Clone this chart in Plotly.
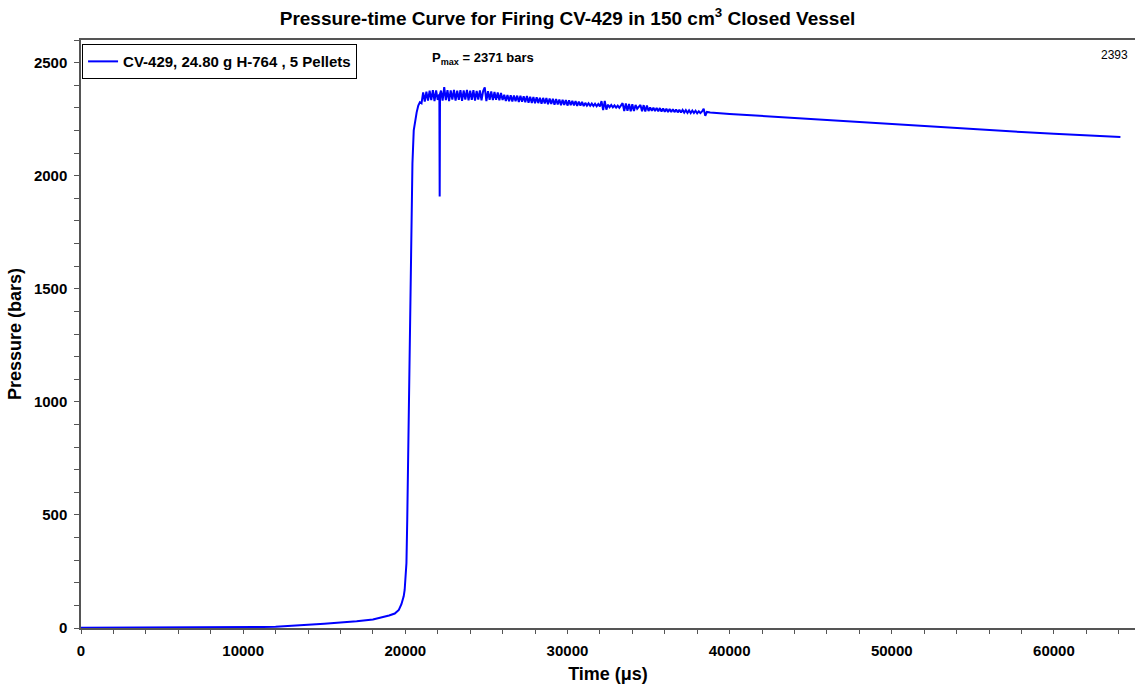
import plotly.graph_objects as go

# ---- data ----
# baseline and steep rise (time in microseconds, pressure in bars)
t_rise = [0, 2000, 4000, 6000, 8000, 10000, 11000, 12000, 13000, 14000, 15000,
          16000, 17000, 18000, 18500, 19000, 19350, 19600, 19760, 19900, 19960,
          20020, 20070, 20120, 20170, 20230, 20310, 20380, 20440, 20520, 20580,
          20700, 20800, 20900]
p_rise = [1, 1, 2, 2, 2, 3, 4, 6, 9, 14, 19,
          24, 30, 38, 45, 55, 64, 80, 105, 140, 168,
          220, 287, 480, 729, 1170, 1612, 1850, 2054, 2200, 2229,
          2280, 2310, 2325]

# noisy plateau, first part, incl. the single drop-out near 22120 us
t_plat1 = [21000, 21100, 21200, 21300, 21400, 21500, 21600, 21700, 21800, 21900,
           22000, 22100, 22120, 22140, 22200, 22300, 22400, 22500, 22600, 22700,
           22800, 22900,
           23000, 23100, 23200, 23300, 23400, 23500, 23600, 23700, 23800, 23900,
           24000, 24100, 24200, 24300, 24400, 24500, 24600, 24700, 24800, 24900,
           25000, 25100, 25200, 25300, 25400, 25500, 25600, 25700, 25800, 25900,
           26000]
p_plat1 = [2320, 2368, 2328, 2372, 2332, 2376, 2334, 2378, 2330, 2377,
           2335, 2360, 1908, 2362, 2376, 2332, 2392, 2334, 2378, 2330,
           2377, 2336,
           2379, 2332, 2376, 2335, 2378, 2331, 2377, 2336, 2379, 2333,
           2376, 2335, 2378, 2332, 2375, 2337, 2377, 2333, 2374, 2390,
           2330, 2374, 2336, 2372, 2334, 2370, 2336, 2368, 2333, 2366,
           2335]

# noisy plateau, second part
t_plat2 = [26100, 26200, 26300, 26400, 26500, 26600, 26700, 26800, 26900, 27000,
           27100, 27200, 27300, 27400, 27500, 27600, 27700, 27800, 27900, 28000,
           28100, 28200, 28300, 28400, 28500, 28600, 28700, 28800, 28900, 29000,
           29100, 29200, 29300, 29400, 29500, 29600, 29700, 29800, 29900, 30000,
           30100, 30200, 30300, 30400, 30500, 30600, 30700, 30800, 30900, 31000,
           31100, 31200, 31300, 31400, 31500, 31600, 31700, 31800, 31900, 32000,
           32100, 32200, 32300, 32400, 32500, 32600, 32700, 32800, 32900, 33000,
           33100, 33200, 33300, 33400, 33500, 33600, 33700, 33800, 33900, 34000,
           34100, 34200, 34300, 34400, 34500, 34600, 34700, 34800, 34900, 35000,
           35100, 35200, 35300, 35400, 35500, 35600, 35700, 35800, 35900, 36000,
           36100, 36200, 36300, 36400, 36500, 36600, 36700, 36800, 36900, 37000,
           37100, 37200, 37300, 37400, 37500, 37600, 37700, 37800, 37900, 38000,
           38100, 38200, 38300, 38400, 38500, 38600]
p_plat2 = [2358, 2330, 2357, 2329, 2356, 2328, 2355, 2329, 2354, 2326,
           2353, 2327, 2351, 2325, 2352, 2323, 2349, 2322, 2348, 2320,
           2347, 2321, 2345, 2318, 2344, 2319, 2343, 2316, 2341, 2317,
           2340, 2314, 2339, 2315, 2337, 2312, 2336, 2313, 2334, 2310,
           2333, 2312, 2331, 2311, 2330, 2309, 2328, 2310, 2326, 2308,
           2322, 2310, 2320, 2309, 2319, 2308, 2318, 2307, 2317, 2306,
           2330, 2290, 2331, 2292, 2314, 2303, 2313, 2302, 2311, 2301,
           2310, 2300, 2309, 2321, 2286, 2319, 2287, 2317, 2285, 2316,
           2286, 2313, 2296, 2303, 2313, 2285, 2312, 2284, 2310, 2286,
           2302, 2287, 2301, 2286, 2300, 2285, 2299, 2284, 2297, 2283,
           2296, 2282, 2295, 2282, 2294, 2281, 2293, 2280, 2292, 2279,
           2291, 2279, 2290, 2278, 2289, 2277, 2288, 2277, 2287, 2276,
           2285, 2277, 2284, 2296, 2265, 2282]

# slow decay
t_decay = [38800, 40000, 42000, 44000, 46000, 48000, 50000, 52000, 54000,
           56000, 58000, 60000, 62000, 64100]
p_decay = [2279, 2273, 2264, 2255, 2245, 2236, 2226, 2217, 2208,
           2200, 2193, 2186, 2179, 2171]

x_tick_vals = [0, 10000, 20000, 30000, 40000, 50000, 60000]
y_tick_vals = [0, 500, 1000, 1500, 2000, 2500]

series_name = "CV-429, 24.80 g H-764 , 5 Pellets"
title_text = "Pressure-time Curve for Firing CV-429 in 150 cm<sup>3</sup> Closed Vessel"
pmax_text = "P<sub>max</sub> = 2371 bars"
corner_text = "2393"

assert len(t_plat2) == len(p_plat2)
assert len(t_plat1) == len(p_plat1)
assert len(t_rise) == len(p_rise)
assert len(t_decay) == len(p_decay)

t_all = t_rise + t_plat1 + t_plat2 + t_decay
p_all = p_rise + p_plat1 + p_plat2 + p_decay

FONT = "Liberation Sans, Arial, sans-serif"
AXC = "#555555"
W, H = 1135, 694

fig = go.Figure()
fig.add_trace(go.Scatter(
    x=t_all, y=p_all, mode="lines", name=series_name,
    line=dict(color="#0000FF", width=2),
))

fig.update_layout(
    width=W, height=H,
    margin=dict(l=81, r=0, t=40, b=66),
    paper_bgcolor="white", plot_bgcolor="white",
    font=dict(family=FONT, color="black"),
    title=dict(text=title_text, x=0.5, xref="container", xanchor="center",
               y=1 - 18 / H, yref="container", yanchor="middle",
               font=dict(size=19, weight="bold", family=FONT, color="black")),
    showlegend=True,
    legend=dict(x=0.001, y=0.993, xanchor="left", yanchor="top",
                bgcolor="white", bordercolor="black", borderwidth=1,
                font=dict(size=15, weight="bold", family=FONT),
                tracegroupgap=0, itemwidth=30),
)

fig.update_xaxes(
    range=[0, 65000], showgrid=False, zeroline=False,
    showline=True, linecolor=AXC, linewidth=1.5, mirror=True,
    ticks="outside", ticklen=4, tickcolor=AXC,
    tickvals=x_tick_vals, ticktext=[str(v) for v in x_tick_vals],
    minor=dict(dtick=2000, ticks="outside", ticklen=4, tickcolor=AXC),
    tickfont=dict(size=15, weight="bold", family=FONT),
    ticklabelstandoff=4,
    title=dict(text="Time (&mu;s)", font=dict(size=18, weight="bold", family=FONT), standoff=10),
)
fig.update_yaxes(
    range=[0, 2600], showgrid=False, zeroline=False,
    showline=True, linecolor=AXC, linewidth=1.5,
    ticks="outside", ticklen=5, tickcolor=AXC,
    tickvals=y_tick_vals, ticktext=[str(v) for v in y_tick_vals],
    minor=dict(dtick=100, ticks="outside", ticklen=5, tickcolor=AXC),
    tickfont=dict(size=15, weight="bold", family=FONT),
    ticklabelstandoff=4,
    title=dict(text="Pressure (bars)", font=dict(size=18, weight="bold", family=FONT), standoff=8),
)

fig.add_annotation(text=pmax_text, x=0.331, xref="paper", y=0.968, yref="paper",
                   xanchor="left", yanchor="middle", showarrow=False,
                   font=dict(size=13, weight="bold", family=FONT))
fig.add_annotation(text=corner_text, x=0.995, xref="paper", y=0.9745, yref="paper",
                   xanchor="right", yanchor="middle", showarrow=False,
                   font=dict(size=12, family=FONT))

fig.write_html("out.html", config={"displayModeBar": False},
               post_script="document.body.style.margin='0';")
